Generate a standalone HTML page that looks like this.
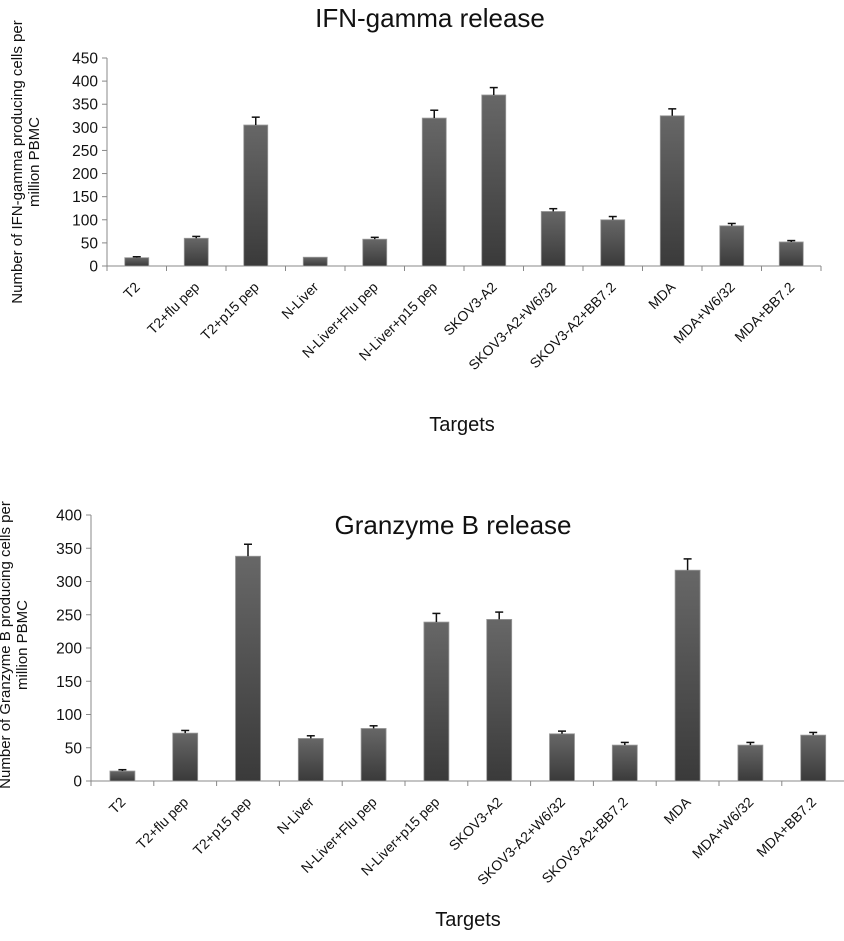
<!DOCTYPE html>
<html><head><meta charset="utf-8"><style>
body{margin:0;background:#fff;}
svg text{font-family:"Liberation Sans",sans-serif;fill:#111;}
</style></head><body>
<svg id="svg" width="844" height="936" xmlns="http://www.w3.org/2000/svg">
<defs><linearGradient id="bg" x1="0" y1="0" x2="0" y2="1"><stop offset="0" stop-color="#676767"/><stop offset="1" stop-color="#3a3a3a"/></linearGradient></defs>
</svg>
<script>
const categories=["T2","T2+flu pep","T2+p15 pep","N-Liver","N-Liver+Flu pep","N-Liver+p15 pep","SKOV3-A2","SKOV3-A2+W6/32","SKOV3-A2+BB7.2","MDA","MDA+W6/32","MDA+BB7.2"];
const ifnValues=[18,60,305,19,58,320,370,118,100,325,87,52];
const ifnErrors=[2,4,17,0,4,17,16,6,7,15,5,3];
const grzValues=[15,72,338,64,79,239,243,71,54,317,54,69];
const grzErrors=[2,4,18,4,4,13,11,4,4,17,4,4];
const ifnTicks=[0,50,100,150,200,250,300,350,400,450];
const grzTicks=[0,50,100,150,200,250,300,350,400];
const NS="http://www.w3.org/2000/svg";
const svg=document.getElementById('svg');
function mk(t,a,txt){const e=document.createElementNS(NS,t);for(const k in a)e.setAttribute(k,a[k]);if(txt!==undefined)e.textContent=txt;svg.appendChild(e);return e;}
function chart(c){
  const y=v=>c.y0-(v/c.max)*(c.y0-c.yTop);
  const x=i=>c.x0+i*c.cw;
  let t=mk('text',{x:c.titleX,y:c.titleY,'text-anchor':'middle','font-size':26},c.title);
  
  
  let ax=mk('line',{x1:c.x0,y1:c.yTop,x2:c.x0,y2:c.y0,stroke:'#888','stroke-width':1});
  
  
  let xa=mk('line',{x1:c.x0-5,y1:c.y0,x2:x(categories.length),y2:c.y0,stroke:'#888','stroke-width':1});
  
  
  c.ticks.forEach(v=>{
    mk('line',{x1:c.x0-5,y1:y(v),x2:c.x0,y2:y(v),stroke:'#888'});
    let l=mk('text',{x:c.x0-9,y:y(v)+5.5,'text-anchor':'end','font-size':15.5},String(v));
    
    
  });
  for(let i=0;i<=categories.length;i++)mk('line',{x1:x(i),y1:c.y0,x2:x(i),y2:c.y0+5,stroke:'#888'});
  categories.forEach((cat,i)=>{
    const cx=x(i)+c.cw/2, v=c.vals[i], e=c.errs[i];
    const b=mk('rect',{x:cx-c.bw/2,y:y(v),width:c.bw,height:c.y0-y(v),fill:'url(#bg)',stroke:'#9a9a9a','stroke-width':0.8});
    
    
    if(e>0){
      mk('line',{x1:cx,y1:y(v),x2:cx,y2:y(v+e),stroke:'#111','stroke-width':1.5});
      mk('line',{x1:cx-4,y1:y(v+e),x2:cx+4,y2:y(v+e),stroke:'#111','stroke-width':1.5});
    }
    const lx=cx+4, ly=c.y0+c.labOff;
    const l=mk('text',{x:lx,y:ly,'text-anchor':'end','font-size':14,transform:`rotate(-45 ${lx} ${ly})`},cat);
    
    
  });
  const xt=mk('text',{x:c.xtX,y:c.xtY,'text-anchor':'middle','font-size':20},'Targets');
  
  
  const g=mk('text',{'text-anchor':'middle','font-size':15,transform:`translate(${c.ytX} ${c.ytY}) rotate(-90)`});
  
  
  c.ytLines.forEach((s,k)=>{const ts=document.createElementNS(NS,'tspan');ts.setAttribute('x',0);ts.setAttribute('y',k*17);ts.textContent=s;g.appendChild(ts);});
}
chart({id:'ifn',title:'IFN-gamma release',titleX:430,titleY:27,x0:107,cw:59.5,bw:24,y0:266,yTop:58,max:450,ticks:ifnTicks,vals:ifnValues,errs:ifnErrors,labOff:22,xtX:462,xtY:431,ytX:22,ytY:162,ytLines:['Number of IFN-gamma producing cells per','million PBMC']});
chart({id:'grz',title:'Granzyme B release',titleX:453,titleY:534,x0:91,cw:62.8,bw:25,y0:781,yTop:515,max:400,ticks:grzTicks,vals:grzValues,errs:grzErrors,labOff:22,xtX:468,xtY:926,ytX:10,ytY:645,ytLines:['Number of Granzyme B producing cells per','million PBMC']});
</script>
</body></html>
